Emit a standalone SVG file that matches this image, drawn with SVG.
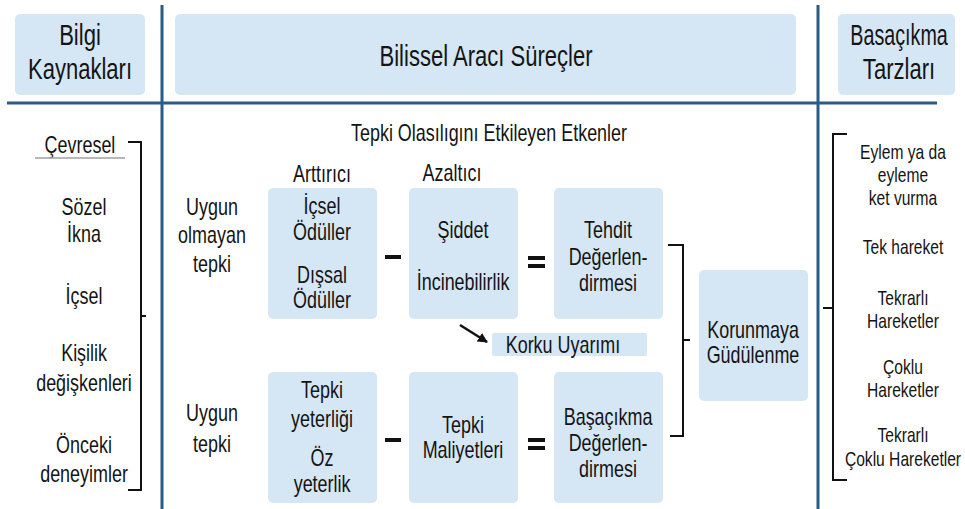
<svg xmlns="http://www.w3.org/2000/svg" width="965" height="509" viewBox="0 0 965 509">
<defs>
<style>
.bg{fill:#ffffff}
.box{fill:#d5e6f4}
.sep{stroke:#2b5c85;stroke-width:3;fill:none}
.br{stroke:#111;stroke-width:2;fill:none}
.t{font-family:"Liberation Sans",Arial,sans-serif;fill:#141414;text-anchor:middle;dominant-baseline:central;transform-box:fill-box;transform-origin:center}
.h{font-size:29px;transform:scaleX(0.76)}
.m{font-size:23px;transform:scaleX(0.78)}
.s{font-size:20px;transform:scaleX(0.78)}
.op{fill:#111}
</style>
<marker id="ah" viewBox="0 0 10 10" refX="9" refY="5" markerWidth="4" markerHeight="4" orient="auto"><path d="M0,0 L10,5 L0,10 z" fill="#111"/></marker>
</defs>
<rect class="bg" x="0" y="0" width="965" height="509"/>

<g id="separators">
<line class="sep" x1="162" y1="5" x2="162" y2="509"/>
<line class="sep" x1="818" y1="5" x2="818" y2="509"/>
<line class="sep" x1="7" y1="103" x2="937" y2="103"/>
</g>

<g id="header-bilgi">
<rect class="box" x="15" y="14" width="130" height="81" rx="5"/>
<text class="t h" x="80" y="35">Bilgi</text>
<text class="t h" x="80" y="69">Kaynakları</text>
</g>
<g id="header-bilissel">
<rect class="box" x="175" y="14" width="621" height="81" rx="5"/>
<text class="t h" x="486" y="56">Bilissel Aracı Süreçler</text>
</g>
<g id="header-basacikma">
<rect class="box" x="838" y="14" width="117" height="81" rx="5"/>
<text class="t h" x="899" y="35" style="transform:scaleX(0.68)">Basaçıkma</text>
<text class="t h" x="899" y="69">Tarzları</text>
</g>

<g id="sources">
<text class="t m" x="80" y="145">Çevresel</text>
<line x1="35" y1="158" x2="125" y2="158" stroke="#a0a0a0" stroke-width="1.5"/>
<text class="t m" x="84" y="207">Sözel</text>
<text class="t m" x="84" y="234">İkna</text>
<text class="t m" x="84" y="296">İçsel</text>
<text class="t m" x="84" y="353">Kişilik</text>
<text class="t m" x="84" y="383">değişkenleri</text>
<text class="t m" x="84" y="445">Önceki</text>
<text class="t m" x="84" y="474">deneyimler</text>
</g>

<g id="middle-labels">
<text class="t m" x="489" y="133">Tepki Olasılıgını Etkileyen Etkenler</text>
<text class="t m" x="322" y="174">Arttırıcı</text>
<text class="t m" x="452" y="173">Azaltıcı</text>
<text class="t m" x="212" y="207">Uygun</text>
<text class="t m" x="212" y="235">olmayan</text>
<text class="t m" x="212" y="264">tepki</text>
<text class="t m" x="212" y="413">Uygun</text>
<text class="t m" x="212" y="444">tepki</text>
</g>

<g id="box-oduller">
<rect class="box" x="268" y="188" width="109" height="131" rx="5"/>
<text class="t m" x="322" y="206">İçsel</text>
<text class="t m" x="322" y="232">Ödüller</text>
<text class="t m" x="322" y="275">Dışsal</text>
<text class="t m" x="322" y="300">Ödüller</text>
</g>
<g id="box-siddet">
<rect class="box" x="409" y="188" width="109" height="131" rx="5"/>
<text class="t m" x="463" y="230">Şiddet</text>
<text class="t m" x="463" y="282">İncinebilirlik</text>
</g>
<g id="box-tehdit">
<rect class="box" x="554" y="188" width="109" height="131" rx="5"/>
<text class="t m" x="608" y="230">Tehdit</text>
<text class="t m" x="608" y="257">Değerlen-</text>
<text class="t m" x="608" y="283">dirmesi</text>
</g>
<g id="box-korku">
<rect class="box" x="492" y="333" width="155" height="23" rx="2"/>
<text class="t m" x="563" y="345">Korku Uyarımı</text>
</g>
<g id="box-yeterlik">
<rect class="box" x="268" y="372" width="109" height="131" rx="5"/>
<text class="t m" x="322" y="390">Tepki</text>
<text class="t m" x="322" y="419">yeterliği</text>
<text class="t m" x="322" y="458">Öz</text>
<text class="t m" x="322" y="484">yeterlik</text>
</g>
<g id="box-maliyet">
<rect class="box" x="409" y="372" width="109" height="131" rx="5"/>
<text class="t m" x="463" y="425">Tepki</text>
<text class="t m" x="463" y="450">Maliyetleri</text>
</g>
<g id="box-basacikma">
<rect class="box" x="554" y="372" width="109" height="131" rx="5"/>
<text class="t m" x="608" y="417">Başaçıkma</text>
<text class="t m" x="608" y="443">Değerlen-</text>
<text class="t m" x="608" y="469">dirmesi</text>
</g>
<g id="box-korunma">
<rect class="box" x="699" y="270" width="109" height="131" rx="5"/>
<text class="t m" x="753" y="330">Korunmaya</text>
<text class="t m" x="753" y="355">Güdülenme</text>
</g>

<g id="operators">
<rect class="op" x="385" y="255" width="16" height="4"/>
<rect class="op" x="528" y="256" width="17" height="4"/>
<rect class="op" x="528" y="264" width="17" height="4"/>
<rect class="op" x="385" y="438" width="16" height="4"/>
<rect class="op" x="528" y="438" width="17" height="4"/>
<rect class="op" x="528" y="446" width="17" height="4"/>
</g>

<g id="styles">
<text class="t s" x="903" y="152">Eylem ya da</text>
<text class="t s" x="903" y="175">eyleme</text>
<text class="t s" x="903" y="198">ket vurma</text>
<text class="t s" x="903" y="247">Tek hareket</text>
<text class="t s" x="903" y="298">Tekrarlı</text>
<text class="t s" x="903" y="321">Hareketler</text>
<text class="t s" x="903" y="367">Çoklu</text>
<text class="t s" x="903" y="390">Hareketler</text>
<text class="t s" x="903" y="435">Tekrarlı</text>
<text class="t s" x="903" y="459">Çoklu Hareketler</text>
</g>

<g id="connectors">
<path class="br" d="M128,142 H141 V490 H128 M141,316 H146"/>
<path class="br" d="M668,245 H683 V436 H670 M683,340 H690"/>
<path class="br" d="M847,134 H833 V480 H847 M833,308 H823"/>
<line x1="460" y1="325" x2="487" y2="342" stroke="#111" stroke-width="2.5" marker-end="url(#ah)"/>
</g>
</svg>
